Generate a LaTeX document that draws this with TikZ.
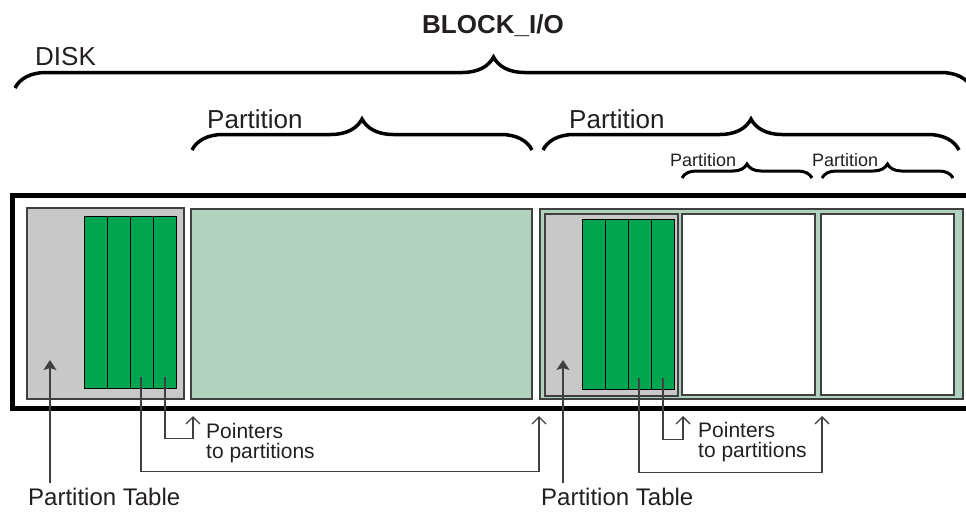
\documentclass[tikz,border=0pt]{standalone}
\usepackage{fontspec}
\setmainfont{Liberation Sans}
\usetikzlibrary{arrows.meta,decorations.pathreplacing,positioning,calc}

\definecolor{tablegray}{RGB}{200,200,200}
\definecolor{partgreen}{RGB}{177,210,191}
\definecolor{slotgreen}{RGB}{0,165,80}
\definecolor{inkgray}{RGB}{64,64,64}
\definecolor{inkblack}{RGB}{35,31,32}

\tikzset{
  box/.style={draw=inkgray,line width=1.5pt,anchor=north west,inner sep=0pt},
  tablebox/.style={box,fill=tablegray},
  partbox/.style={box,fill=partgreen},
  freebox/.style={box,fill=white},
  slot/.style={draw=black,line width=1.2pt,fill=slotgreen,anchor=north west,
    inner sep=0pt,minimum width=23pt},
  curly/.style={decorate,decoration={brace,amplitude=#1},line width=3.5pt,draw=black},
  ptr/.style={draw=inkgray,line width=1.3pt,-{Straight Barb[length=7pt,width=14pt]}},
  tabptr/.style={draw=inkgray,line width=1.3pt,shorten <=4pt,
    -{Stealth[length=10pt,width=13pt,inset=2pt]}},
  lbl/.style={anchor=base west,inner sep=0pt,text=inkblack}
}

\begin{document}
\begin{tikzpicture}[x=1pt,y=-1pt]
  \useasboundingbox (0,0) rectangle (966,512);

  % labels and braces on top
  \node[lbl,font=\fontsize{26}{30}\selectfont\bfseries] (title) at (422,33) {BLOCK\_I/O};
  \node[lbl,font=\fontsize{26}{30}\selectfont] (disk) at (35,65) {DISK};
  \draw[curly=31pt] (15,88) -- (972,88);

  \node[lbl,font=\fontsize{26}{30}\selectfont] (partLlbl) at (207,128) {Partition};
  \node[lbl,font=\fontsize{26}{30}\selectfont] (partRlbl) at (569,128) {Partition};
  \draw[curly=31pt] (192,150) -- (532,150);
  \draw[curly=31pt] (543,150) -- (959,150);

  \node[lbl,font=\fontsize{18}{21}\selectfont] (subAlbl) at (670,166) {Partition};
  \node[lbl,font=\fontsize{18}{21}\selectfont] (subBlbl) at (812,166) {Partition};
  \draw[curly=14pt,line width=3pt] (682,178) -- (812,178);
  \draw[curly=14pt,line width=3pt] (822,178) -- (953,178);

  % the disk
  \draw[line width=5pt,draw=black] (969,195.5) -- (12.5,195.5) -- (12.5,408.5) -- (969,408.5);

  % first partition table and partition
  \node[tablebox,minimum width=157pt,minimum height=191pt] (tabL) at (26,207) {};
  \foreach \i in {0,...,3}
    \node[slot,minimum height=172pt] (slotL\i) at ({84+23*\i},216) {};
  \node[partbox,minimum width=341pt,minimum height=190pt] (partL) at (190,208) {};

  % extended partition
  \node[partbox,minimum width=423pt,minimum height=190pt] (partR) at (539,208) {};
  \node[tablebox,minimum width=133pt,minimum height=182pt] (tabR) at (544,213) {};
  \foreach \i in {0,...,3}
    \node[slot,minimum height=170pt] (slotR\i) at ({582+23*\i},219) {};
  \node[freebox,minimum width=133pt,minimum height=181pt] (subA) at (681,213) {};
  \node[freebox,minimum width=133pt,minimum height=181pt] (subB) at (820,213) {};

  % labels below
  \node[lbl,font=\fontsize{24}{28}\selectfont] (tabLtxt) at (28,505) {Partition Table};
  \node[lbl,font=\fontsize{24}{28}\selectfont] (tabRtxt) at (541,505) {Partition Table};
  \node[lbl,font=\fontsize{21}{20}\selectfont,align=left] (ptrLtxt) at (206,458) {Pointers\\to partitions};
  \node[lbl,font=\fontsize{21}{20}\selectfont,align=left] (ptrRtxt) at (698,457) {Pointers\\to partitions};

  % pointers
  \coordinate (tabLtip) at (50,360);
  \coordinate (tabRtip) at (563,360);
  \coordinate (tgtL1) at (193,416);
  \coordinate (tgtL2) at (539,416);
  \coordinate (tgtR1) at (683,416);
  \coordinate (tgtR2) at (822,416);
  \draw[tabptr] (tabLtxt.north -| tabLtip) -- (tabLtip);
  \draw[tabptr] (tabRtxt.north -| tabRtip) -- (tabRtip);
  \draw[ptr] ($(slotL3.south)+(0,-12)$) -- ++(0,61) -| (tgtL1);
  \draw[ptr] ($(slotL2.south)+(-1,-12)$) -- ++(0,94) -| (tgtL2);
  \draw[ptr] ($(slotR3.south)+(0,-12)$) -- ++(0,61) -| (tgtR1);
  \draw[ptr] ($(slotR2.south)+(-1,-12)$) -- ++(0,94) -| (tgtR2);
\end{tikzpicture}
\end{document}
